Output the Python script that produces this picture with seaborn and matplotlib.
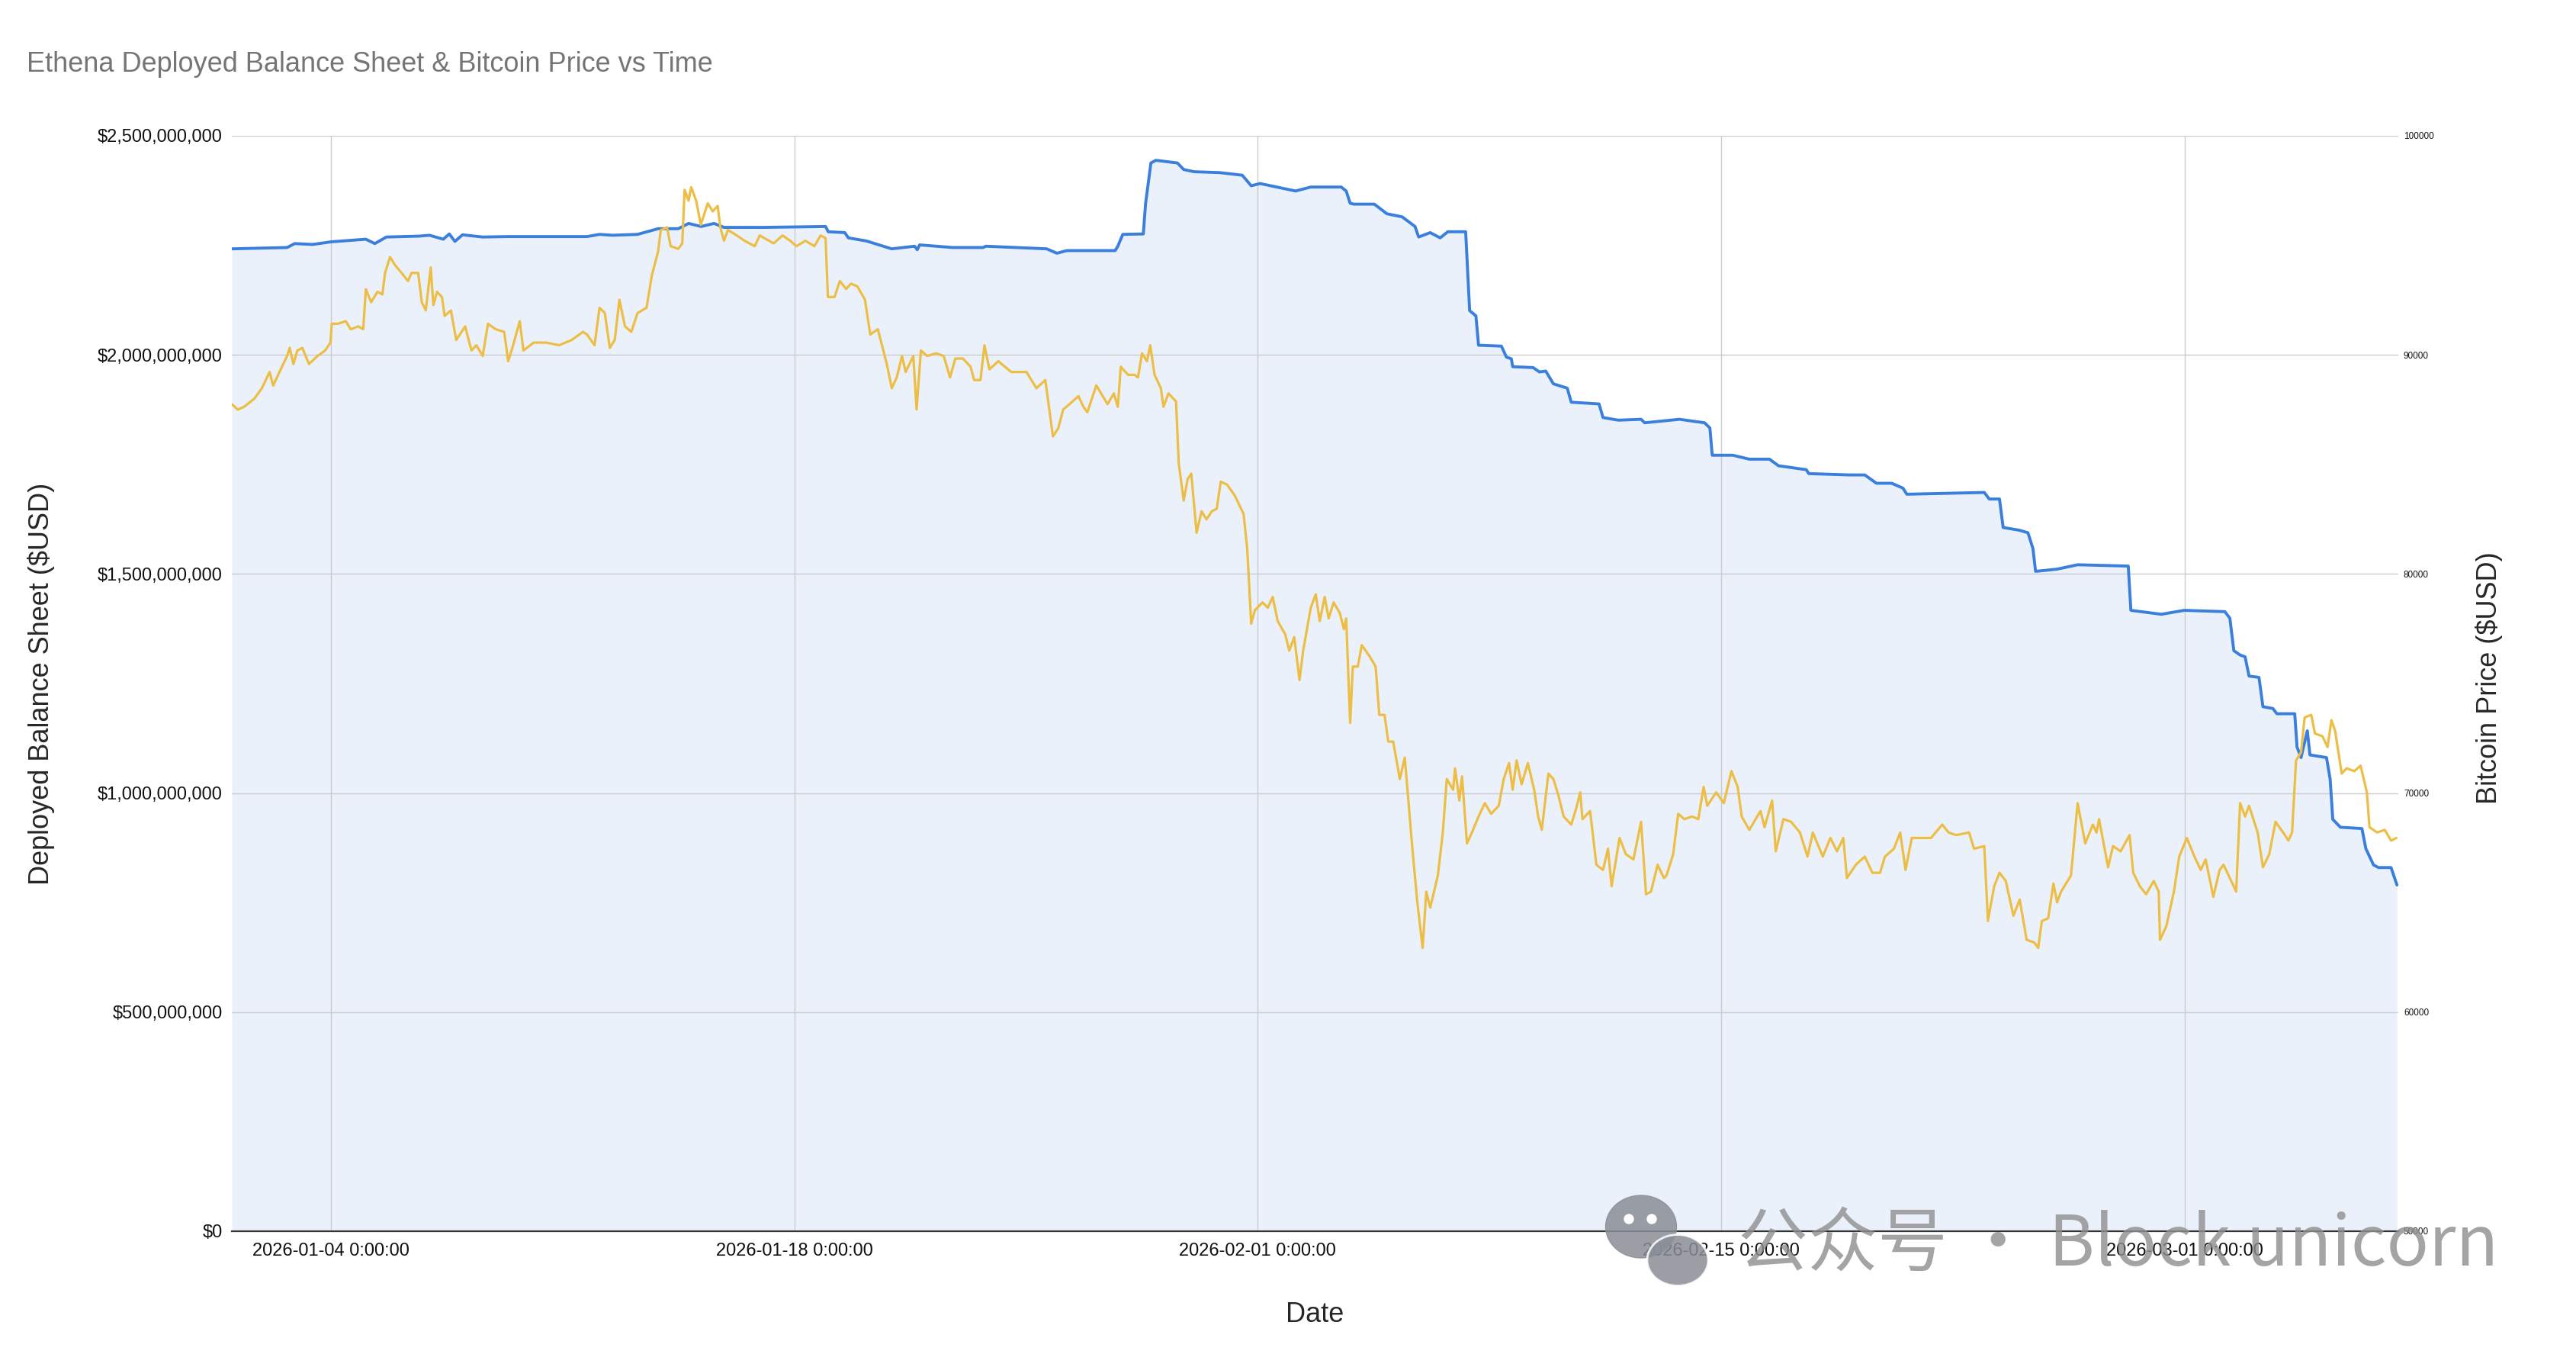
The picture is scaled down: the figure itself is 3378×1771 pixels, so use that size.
import pandas as pd
import numpy as np
import seaborn as sns
from matplotlib import pyplot as plt
from matplotlib.ticker import FuncFormatter, FixedLocator
from matplotlib.patches import Ellipse

# days since 2026-01-01 00:00 -> BTC price (USD)
btc_day = [
    0.00, 0.18, 0.37, 0.68, 0.91, 1.14, 1.25, 1.44, 1.67, 1.75, 1.86, 1.98, 2.13, 2.33, 2.59, 2.82,
    2.98, 3.02, 3.21, 3.44, 3.59, 3.82, 3.97, 4.05, 4.21, 4.40, 4.55, 4.63, 4.78, 4.93, 5.13, 5.32,
    5.43, 5.63, 5.74, 5.86, 6.01, 6.09, 6.20, 6.35, 6.43, 6.62, 6.78, 7.05, 7.24, 7.39, 7.58, 7.74,
    7.97, 8.23, 8.35, 8.50, 8.70, 8.81, 9.12, 9.50, 9.89, 10.27, 10.61, 10.73, 10.96, 11.11, 11.27,
    11.42, 11.57, 11.71, 11.88, 12.07, 12.26, 12.53, 12.69, 12.88, 12.96, 13.15, 13.26, 13.49,
    13.61, 13.68, 13.80, 13.88, 14.03, 14.17, 14.38, 14.53, 14.68, 14.76, 14.87, 14.99, 15.26,
    15.49, 15.80, 15.95, 16.37, 16.64, 16.87, 17.06, 17.33, 17.60, 17.79, 17.94, 18.01, 18.21,
    18.37, 18.56, 18.71, 18.90, 19.13, 19.29, 19.52, 19.79, 19.94, 20.09, 20.25, 20.36, 20.59,
    20.69, 20.82, 21.01, 21.28, 21.51, 21.70, 21.86, 22.09, 22.32, 22.43, 22.62, 22.74, 22.89,
    23.16, 23.55, 24.01, 24.31, 24.58, 24.81, 24.97, 25.12, 25.31, 25.58, 25.73, 25.85, 26.12,
    26.46, 26.65, 26.77, 26.86, 27.08, 27.27, 27.38, 27.50, 27.65, 27.75, 27.88, 28.07, 28.15,
    28.30, 28.53, 28.61, 28.76, 28.88, 28.99, 29.15, 29.30, 29.45, 29.61, 29.76, 29.88, 30.07,
    30.30, 30.57, 30.68, 30.80, 30.91, 31.14, 31.30, 31.45, 31.60, 31.83, 31.95, 32.10, 32.26,
    32.37, 32.60, 32.75, 32.87, 33.02, 33.14, 33.29, 33.48, 33.60, 33.67, 33.79, 33.87, 34.02,
    34.14, 34.37, 34.56, 34.67, 34.83, 34.94, 35.09, 35.29, 35.44, 35.55, 35.67, 35.82, 35.98,
    36.09, 36.21, 36.44, 36.59, 36.71, 36.90, 36.96, 37.09, 37.17, 37.32, 37.47, 37.67, 37.86,
    38.05, 38.28, 38.43, 38.59, 38.70, 38.82, 38.97, 39.16, 39.35, 39.47, 39.58, 39.78, 39.93,
    40.08, 40.24, 40.47, 40.62, 40.74, 40.81, 41.04, 41.23, 41.43, 41.58, 41.69, 41.93, 42.12,
    42.35, 42.58, 42.73, 42.88, 43.08, 43.27, 43.35, 43.55, 43.70, 43.89, 44.12, 44.31, 44.47,
    44.58, 44.85, 45.08, 45.31, 45.50, 45.62, 45.85, 46.04, 46.19, 46.31, 46.54, 46.65, 46.88,
    47.11, 47.38, 47.61, 47.77, 48.07, 48.30, 48.50, 48.69, 48.80, 49.07, 49.34, 49.57, 49.80,
    49.95, 50.22, 50.41, 50.57, 50.76, 51.10, 51.34, 51.68, 51.87, 52.10, 52.49, 52.64, 52.95,
    53.06, 53.25, 53.41, 53.60, 53.83, 54.02, 54.23, 54.46, 54.58, 54.69, 54.88, 55.04, 55.15,
    55.27, 55.57, 55.77, 56.00, 56.23, 56.34, 56.42, 56.69, 56.84, 57.07, 57.34, 57.45, 57.65,
    57.84, 58.07, 58.22, 58.26, 58.45, 58.68, 58.84, 59.07, 59.30, 59.49, 59.64, 59.87, 60.06,
    60.18, 60.37, 60.56, 60.68, 60.83, 60.95, 61.21, 61.37, 61.56, 61.75, 61.98, 62.14, 62.25,
    62.37, 62.52, 62.63, 62.83, 62.94, 63.17, 63.32, 63.44, 63.55, 63.75, 63.90, 64.13, 64.32,
    64.51, 64.59, 64.82, 65.05, 65.24, 65.40,
]
btc_price = [
    87750, 87500, 87630, 88000, 88480, 89220, 88600, 89220, 89950, 90320, 89580, 90200, 90320, 89580, 89950, 90200,
    90560, 91420, 91420, 91540, 91170, 91300, 91170, 93000, 92400, 92880, 92760, 93740, 94470, 94100, 93740, 93370,
    93740, 93740, 92400, 92030, 93990, 92270, 92880, 92640, 91780, 92030, 90680, 91300, 90200, 90440, 89950, 91420,
    91170, 91050, 89710, 90440, 91540, 90200, 90560, 90560, 90440, 90680, 91050, 90930, 90440, 92150, 91910,
    90320, 90680, 92520, 91300, 91050, 91910, 92150, 93620, 94720, 95700, 95820, 94960, 94840,
    95090, 97530, 97040, 97650, 97040, 95940, 96920, 96550, 96800, 95820, 95210, 95700, 95450,
    95210, 94960, 95450, 95090, 95450, 95210, 94960, 95210, 94960, 95450, 95330, 92640, 92640,
    93370, 93010, 93250, 93130, 92520, 90930, 91170, 89580, 88480, 88970, 89950, 89220, 89950,
    87510, 90200, 89950, 90070, 89950, 88970, 89830, 89830, 89460, 88850, 88850, 90440, 89340,
    89710, 89220, 89220, 88480, 88850, 86280, 86650, 87510, 87750, 88120, 87630, 87380, 88610,
    87750, 88240, 87630, 89460, 89090, 89090, 88970, 90070, 89710, 90440, 89090, 88480, 87630,
    88240, 87870, 85060, 83350, 84330, 84580, 81880, 82860, 82490, 82860, 82980, 84210, 84080,
    83590, 82740, 81150, 77730, 78340, 78700, 78460, 78950, 77850, 77240, 76500, 77120, 75160,
    76500, 78460, 79070, 77850, 78950, 77970, 78700, 78210, 77480, 77970, 73200, 75770, 75770,
    76750, 76260, 75770, 73570, 73570, 72350, 72350, 70640, 71620, 69660, 67460, 65010, 62930,
    65500, 64770, 66240, 68200, 70640, 70150, 71130, 69660, 70760, 67700, 68200, 68930, 69540,
    69050, 69420, 70640, 71370, 70150, 71490, 70400, 71370, 70150, 68930, 68320, 70890, 70640,
    69910, 68930, 68560, 69300, 70030, 68810, 69180, 66730, 66490, 67460, 65750, 67950, 67210,
    66970, 68690, 65380, 65500, 66730, 66120, 66240, 67210, 69050, 68810, 68930, 68810, 70280,
    69420, 70030, 69540, 71000, 70280, 68930, 68320, 68810, 69180, 68440, 69660, 67340, 68810,
    68690, 68200, 67100, 68200, 67100, 67950, 67340, 67950, 66120, 66730, 67100, 66360, 66360,
    67100, 67460, 68200, 66490, 67950, 67950, 67950, 68560, 68200, 68080, 68200, 67460, 67580,
    64160, 65750, 66360, 65990, 64400, 65140, 63300, 63180, 62930, 64160, 64280, 65870, 65010,
    65500, 66240, 69540, 67700, 68560, 68200, 68810, 66610, 67580, 67340, 68080, 66360, 65750,
    65380, 65990, 65500, 63300, 63920, 65500, 67100, 67950, 67100, 66490, 66970, 65260, 66490,
    66730, 66120, 65500, 69540, 68930, 69420, 68200, 66610, 67210, 68690, 68200, 67830, 68200,
    71490, 71860, 73450, 73570, 72720, 72590, 72100, 73330, 72840, 70890, 71130, 71000, 71250,
    70030, 68440, 68200, 68320, 67830, 67950,
]

# days since 2026-01-01 00:00 -> deployed balance sheet (USD millions)
bal_day = [
    0.00, 1.67, 1.90, 2.44, 3.00, 4.05, 4.32, 4.67, 5.66, 5.97, 6.39, 6.57, 6.74, 6.97, 7.58, 8.35,
    10.73, 11.11, 11.50, 12.26, 12.88, 13.49, 13.80, 14.18, 14.57, 14.87, 16.10, 17.94, 18.02,
    18.52, 18.63, 19.17, 19.94, 20.63, 20.71, 20.78, 21.78, 22.70, 22.78, 24.62, 24.93, 25.23,
    26.69, 26.77, 26.92, 27.54, 27.61, 27.77, 27.92, 28.57, 28.76, 29.07, 29.84, 30.53, 30.80,
    31.07, 32.14, 32.60, 33.52, 33.67, 33.79, 33.90, 34.52, 34.90, 35.36, 35.75, 35.86, 36.21,
    36.51, 36.74, 37.28, 37.40, 37.59, 37.67, 38.36, 38.51, 38.66, 38.70, 39.32, 39.51, 39.70,
    39.93, 40.35, 40.47, 41.31, 41.43, 41.89, 42.58, 42.69, 43.74, 44.50, 44.66, 44.73, 45.35,
    45.85, 46.46, 46.73, 47.57, 47.65, 48.88, 49.34, 49.69, 50.15, 50.49, 50.61, 52.95, 53.10,
    53.41, 53.52, 54.00, 54.27, 54.42, 54.50, 55.15, 55.77, 57.30, 57.38, 58.30, 58.99, 60.22,
    60.37, 60.49, 60.68, 60.83, 60.95, 61.25, 61.37, 61.67, 61.79, 62.33, 62.40, 62.52, 62.71,
    62.79, 63.29, 63.40, 63.48, 63.71, 64.36, 64.48, 64.71, 64.86, 65.24, 65.42,
]
bal_musd = [
    2242, 2245, 2254, 2252, 2258, 2264, 2254, 2269, 2271, 2273, 2264, 2276, 2259, 2274, 2269, 2270,
    2270, 2275, 2273, 2275, 2288, 2288, 2300, 2293, 2300, 2291, 2291, 2293, 2281,
    2279, 2267, 2260, 2242, 2248, 2240, 2251, 2245, 2245, 2248, 2242, 2232, 2238,
    2238, 2248, 2275, 2276, 2346, 2438, 2444, 2438, 2423, 2418, 2416, 2410, 2386,
    2391, 2374, 2383, 2383, 2374, 2346, 2344, 2344, 2322, 2315, 2293, 2269, 2279,
    2267, 2281, 2281, 2101, 2089, 2022, 2020, 1995, 1991, 1973, 1971, 1961, 1963,
    1934, 1924, 1892, 1888, 1857, 1851, 1853, 1845, 1853, 1845, 1833, 1771, 1771,
    1762, 1762, 1747, 1738, 1729, 1726, 1726, 1707, 1707, 1696, 1682, 1686, 1671,
    1671, 1606, 1600, 1594, 1558, 1506, 1511, 1521, 1518, 1417, 1408, 1417, 1414,
    1399, 1325, 1315, 1311, 1267, 1264, 1197, 1193, 1181, 1181, 1105, 1081, 1142,
    1087, 1081, 1032, 940, 922, 919, 873, 836, 830, 830, 790,
]

xtick_dates = ["2026-01-04", "2026-01-18", "2026-02-01", "2026-02-15", "2026-03-01"]
xtick_labels = ["2026-01-04 0:00:00", "2026-01-18 0:00:00", "2026-02-01 0:00:00",
                "2026-02-15 0:00:00", "2026-03-01 0:00:00"]
left_ticks = [0, 500e6, 1000e6, 1500e6, 2000e6, 2500e6]
right_ticks = [50000, 60000, 70000, 80000, 90000, 100000]

start = pd.Timestamp("2026-01-01")
btc = pd.DataFrame({"time": start + pd.to_timedelta(btc_day, unit="D"), "price": btc_price})
bal = pd.DataFrame({"time": start + pd.to_timedelta(bal_day, unit="D"),
                    "balance": np.array(bal_musd) * 1e6})

sns.set_style("white")
plt.rcParams["font.family"] = ["Liberation Sans", "Noto Sans CJK SC", "DejaVu Sans"]

W, H = 3378, 1771
fig = plt.figure(figsize=(W / 100, H / 100), dpi=100)
ax = fig.add_axes([304 / W, 1 - 1614 / H, (3145 - 304) / W, (1614 - 178) / H])
ax2 = ax.twinx()

blue = "#3A7FDC"
yellow = "#EDBE45"

ax.fill_between(bal["time"], bal["balance"], 0, color="#EBF1FB", linewidth=0, zorder=1)
sns.lineplot(data=bal, x="time", y="balance", ax=ax, color=blue, linewidth=2.8, zorder=3)
sns.lineplot(data=btc, x="time", y="price", ax=ax2, color=yellow, linewidth=2.3)

ax.set_xlim(start, start + pd.Timedelta(days=65.46))
ax.set_ylim(0, 2.5e9)
ax2.set_ylim(50000, 100000)

ax.yaxis.set_major_locator(FixedLocator(left_ticks))
ax.yaxis.set_major_formatter(FuncFormatter(lambda v, p: "${:,.0f}".format(v)))
ax2.yaxis.set_major_locator(FixedLocator(right_ticks))
ax2.yaxis.set_major_formatter(FuncFormatter(lambda v, p: "{:.0f}".format(v)))
ax.set_xticks(pd.to_datetime(xtick_dates))
ax.set_xticklabels(xtick_labels)

ax.set_axisbelow("line")
ax.grid(True, color="#CCCCCC", linewidth=1.0)
ax2.grid(False)
for a in (ax, ax2):
    for s in a.spines.values():
        s.set_visible(False)
ax.spines["bottom"].set_visible(True)
ax.spines["bottom"].set_color("#333333")
ax.spines["bottom"].set_linewidth(1.6)
ax.spines["bottom"].set_zorder(4)

ax.tick_params(axis="y", length=0, pad=9, labelsize=17, labelcolor="#111111")
ax.tick_params(axis="x", length=0, pad=11, labelsize=17, labelcolor="#111111")
ax2.tick_params(axis="y", length=0, pad=5, labelsize=8.5, labelcolor="#111111")

ax.set_xlabel("Date", fontsize=26)
ax.xaxis.set_label_coords(0.5, -0.064)
ax.set_ylabel("Deployed Balance Sheet ($USD)", fontsize=26)
ax.yaxis.set_label_coords(-0.0815, 0.5)
ax2.set_ylabel("Bitcoin Price ($USD)", fontsize=26)
ax2.yaxis.set_label_coords(1.0355, 0.505)

fig.text(35 / W, 1 - 84 / H, "Ethena Deployed Balance Sheet & Bitcoin Price vs Time",
         fontsize=26, color="#757575", va="center", ha="left")

# watermark
wm = "#8A8E96"
fig.add_artist(Ellipse((2152 / W, 1 - 1608 / H), 93 / W, 82 / H, transform=fig.transFigure,
                       color=wm, alpha=0.85, zorder=5))
fig.add_artist(Ellipse((2200 / W, 1 - 1652 / H), 80 / W, 67 / H, transform=fig.transFigure,
                       color=wm, alpha=0.85, zorder=5, ec="white", lw=2))
for ex, ey in [(2136, 1598), (2166, 1598)]:
    fig.add_artist(Ellipse((ex / W, 1 - ey / H), 12 / W, 12 / H, transform=fig.transFigure,
                           color="white", zorder=6))
fig.text(2279 / W, 1 - 1633 / H, "公众号 · Block unicorn", fontsize=66,
         family=["Noto Sans CJK SC", "DejaVu Sans"],
         color="#8E8E8E", alpha=0.8, va="center", ha="left", zorder=6)

fig.savefig("out.png", dpi=100, facecolor="white")
